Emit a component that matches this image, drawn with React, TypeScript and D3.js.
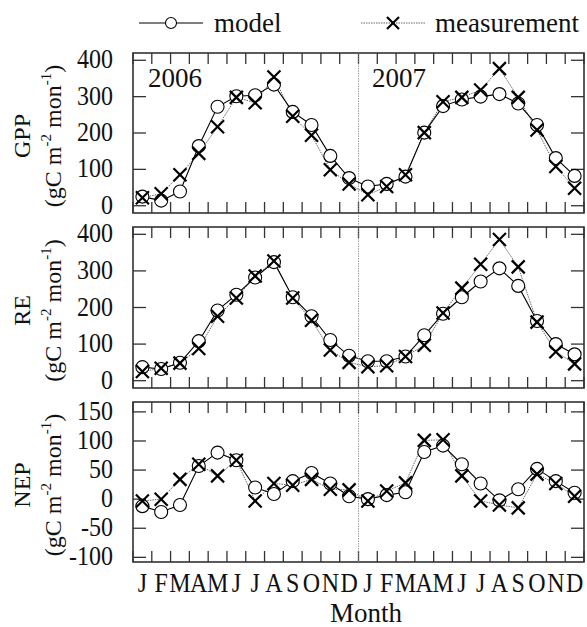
import React from 'react';
import * as d3 from 'd3';

const monthLabels = ['J','F','M','A','M','J','J','A','S','O','N','D','J','F','M','A','M','J','J','A','S','O','N','D'];
const yearLabels = ['2006', '2007'];

const gppModel = [25,14,39,164,272,301,304,333,258,222,137,76, 53,60,80,201,274,292,300,307,281,222,131,82];
const gppMeas  = [22,33,85,144,217,298,283,354,246,194,99,60, 30,53,85,201,286,298,318,377,298,208,108,48];

const reModel = [37,32,49,108,192,235,282,324,228,176,111,68, 53,53,66,124,183,228,271,307,259,163,100,72];
const reMeas  = [25,34,48,88,176,226,286,327,226,165,84,50, 38,41,66,97,185,253,318,386,311,160,79,46];

const nepModel = [-12,-22,-10,57,80,67,20,9,31,45,27,5, 0,7,12,81,92,60,27,-2,17,52,31,11];
const nepMeas  = [-3,0,34,60,40,67,-3,27,24,34,17,16, -3,14,28,101,102,40,-3,-10,-15,43,27,5];

const gppTicks = [0,100,200,300,400];
const reTicks = [0,100,200,300,400];
const nepTicks = [-100,-50,0,50,100,150];

const W = 587, H = 627;
const L = 133, R = 584;
const FONT = 'Liberation Serif';
const TS = { fontFamily: "'Liberation Serif'" };

const panels = [
  { name: 'GPP', model: gppModel, meas: gppMeas, ticks: gppTicks, domain: [-20, 420], top: 53, bottom: 213 },
  { name: 'RE', model: reModel, meas: reMeas, ticks: reTicks, domain: [-20, 420], top: 227, bottom: 388 },
  { name: 'NEP', model: nepModel, meas: nepMeas, ticks: nepTicks, domain: [-108, 167], top: 402, bottom: 562 },
];

const x = d3.scaleBand<number>().domain(d3.range(24)).range([L, R]).padding(0);
const bw = x.bandwidth();
const cx = (i: number) => (x(i) as number) + bw / 2;

function XMark({ px, py, s }: { px: number; py: number; s: number }) {
  return (
    <g stroke="#000" strokeWidth={2.2}>
      <line x1={px - s} y1={py - s} x2={px + s} y2={py + s} />
      <line x1={px - s} y1={py + s} x2={px + s} y2={py - s} />
    </g>
  );
}

function Panel({ p }: { p: typeof panels[number] }) {
  const y = d3.scaleLinear().domain(p.domain).range([p.bottom, p.top]);
  const line = d3.line<number>().x((_, i) => cx(i)).y((v) => y(v));
  const bounds = d3.range(25).map((i) => L + i * bw);
  const tl = 11;
  const ytl = 13;
  const mid = (p.top + p.bottom) / 2 + 3;
  return (
    <g>
      {bounds.map((bx, i) => (
        <g key={'xt' + i} stroke="#333" strokeWidth={1.3}>
          <line x1={bx} x2={bx} y1={p.top} y2={p.top + tl} />
          <line x1={bx} x2={bx} y1={p.bottom} y2={p.bottom - tl} />
        </g>
      ))}
      {p.ticks.map((t) => (
        <g key={'yt' + t}>
          <line x1={L} x2={L + ytl} y1={y(t)} y2={y(t)} stroke="#333" strokeWidth={1.3} />
          <line x1={R} x2={R - ytl} y1={y(t)} y2={y(t)} stroke="#333" strokeWidth={1.3} />
          <g transform={`translate(113,${y(t) + 8}) scale(1,1.1)`}>
            <text textAnchor="end" fontSize={24} fill="#111" fontFamily={FONT} style={TS}>{t}</text>
          </g>
        </g>
      ))}
      <path d={line(p.meas) || ''} fill="none" stroke="#555" strokeWidth={0.9} strokeDasharray="1.5,1" />
      <path d={line(p.model) || ''} fill="none" stroke="#000" strokeWidth={1.1} />
      {p.model.map((v, i) => (
        <circle key={'c' + i} cx={cx(i)} cy={y(v)} r={6.5} fill="#fff" stroke="#000" strokeWidth={1.1} />
      ))}
      {p.meas.map((v, i) => (
        <XMark key={'m' + i} px={cx(i)} py={y(v)} s={6.5} />
      ))}
      <rect x={L} y={p.top} width={R - L} height={p.bottom - p.top} fill="none" stroke="#333" strokeWidth={1.6} />
      <g transform={`translate(30,${mid}) rotate(-90)`}>
        <text textAnchor="middle" fontSize={24} fill="#111" fontFamily={FONT} style={TS}>{p.name}</text>
      </g>
      <g transform={`translate(61,${mid}) rotate(-90)`}>
        <text textAnchor="middle" fontSize={24} fill="#111" fontFamily={FONT} style={TS}>
          (gC m<tspan fontSize={15} dy={-10}>-2</tspan><tspan dy={10}> mon</tspan><tspan fontSize={15} dy={-10}>-1</tspan><tspan dy={10}>)</tspan>
        </text>
      </g>
    </g>
  );
}

export default function App() {
  const p3 = panels[2];
  return (
    <div style={{ position: 'absolute', left: 0, top: 0 }}>
      <svg width={W} height={H} viewBox={`0 0 ${W} ${H}`} style={{ display: 'block', background: '#fff' }}>
        <line x1={139} x2={203} y1={23} y2={23} stroke="#000" strokeWidth={1.2} />
        <circle cx={171} cy={23} r={5.5} fill="#fff" stroke="#000" strokeWidth={1.1} />
        <text x={214} y={32} fontSize={27} fill="#111" fontFamily={FONT} style={TS}>model</text>
        <line x1={361} x2={425} y1={23} y2={23} stroke="#555" strokeWidth={0.9} strokeDasharray="1.5,1" />
        <XMark px={393} py={23} s={6} />
        <text x={435} y={32} fontSize={27} fill="#111" fontFamily={FONT} style={TS}>measurement</text>

        {panels.map((p) => <Panel key={p.name} p={p} />)}

        <line x1={L + 12 * bw} x2={L + 12 * bw} y1={panels[0].top} y2={p3.bottom} stroke="#888" strokeWidth={0.8} strokeDasharray="1.5,1" />

        <text x={148} y={87} fontSize={27} fill="#111" fontFamily={FONT} style={TS}>{yearLabels[0]}</text>
        <text x={372} y={87} fontSize={27} fill="#111" fontFamily={FONT} style={TS}>{yearLabels[1]}</text>

        {monthLabels.map((m, i) => (
          <g key={'ml' + i} transform={`translate(${cx(i)},592) scale(1,1.12)`}>
            <text textAnchor="middle" fontSize={24} fill="#111" fontFamily={FONT} style={TS}>{m}</text>
          </g>
        ))}
        <text x={366} y={622} textAnchor="middle" fontSize={27} fill="#111" fontFamily={FONT} style={TS}>Month</text>
      </svg>
    </div>
  );
}
